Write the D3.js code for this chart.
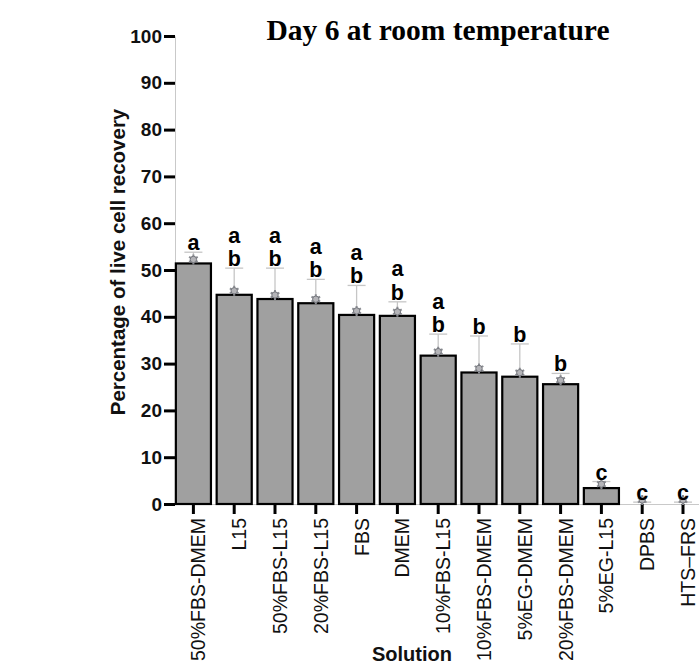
<!DOCTYPE html>
<html>
<head>
<meta charset="utf-8">
<script src="https://cdn.jsdelivr.net/npm/d3@7"></script>
<style>
  html, body { margin: 0; padding: 0; background: #fff; }
  svg { display: block; }
</style>
</head>
<body>
<svg id="chart" width="699" height="664"></svg>
<script>
// Live cell recovery after 6 days at room temperature, per storage solution
const solutions = ["50%FBS-DMEM", "L15", "50%FBS-L15", "20%FBS-L15", "FBS", "DMEM",
  "10%FBS-L15", "10%FBS-DMEM", "5%EG-DMEM", "20%FBS-DMEM", "5%EG-L15", "DPBS", "HTS\u2013FRS"];
const meanRecovery = [51.4, 44.7, 43.8, 42.9, 40.4, 40.2, 31.7, 28.1, 27.2, 25.6, 3.4, 0, 0];
const upperError = [53.8, 50.4, 50.4, 48.0, 46.7, 43.2, 36.3, 35.9, 34.2, 27.9, 4.8, 0.4, 0.4];
const groupLetters = [["a"], ["a", "b"], ["a", "b"], ["a", "b"], ["a", "b"], ["a", "b"],
  ["a", "b"], ["b"], ["b"], ["b"], ["c"], ["c"], ["c"]];
const yTicks = [0, 10, 20, 30, 40, 50, 60, 70, 80, 90, 100];

const svg = d3.select("#chart");
const sans = "'Liberation Sans', Arial, Helvetica, sans-serif";

const x = d3.scaleBand().domain(solutions).range([173, 703.4])
  .paddingInner(0.14).paddingOuter(0.07);
const y = d3.scaleLinear().domain([0, 100]).range([504, 36]);

const rows = solutions.map((s, i) => ({
  name: s, v: meanRecovery[i], hi: upperError[i], letters: groupLetters[i]
}));

// Title
svg.append("text")
  .attr("x", 438).attr("y", 40)
  .attr("text-anchor", "middle")
  .attr("font-family", "'Liberation Serif', 'Times New Roman', serif")
  .attr("font-weight", "bold").attr("font-size", 29.5)
  .text("Day 6 at room temperature");

// Y axis
const yAxis = svg.append("g")
  .attr("transform", "translate(175,0)")
  .call(d3.axisLeft(y).tickValues(yTicks).tickSize(11).tickSizeOuter(0).tickPadding(2));
yAxis.select(".domain").attr("stroke", "#c9c9c9").attr("stroke-width", 1);
yAxis.selectAll(".tick line").attr("stroke", "#000").attr("stroke-width", 3);
yAxis.selectAll(".tick text")
  .attr("font-family", sans).attr("font-weight", "bold").attr("font-size", 19).attr("fill", "#111");

// X axis baseline and ticks
const xAxis = svg.append("g")
  .attr("transform", `translate(0,${y(0)})`)
  .call(d3.axisBottom(x).tickSize(10).tickSizeOuter(0));
xAxis.select(".domain").attr("stroke", "#c9c9c9").attr("stroke-width", 1)
  .attr("d", `M175,0.5H699`);
xAxis.selectAll(".tick line").attr("stroke", "#000").attr("stroke-width", 3);
xAxis.selectAll(".tick text")
  .attr("font-family", sans).attr("font-size", 19.5).attr("fill", "#111")
  .attr("text-anchor", "end")
  .attr("transform", "rotate(-90)")
  .attr("x", -14).attr("y", 12).attr("dy", 0);

// Bars
svg.append("g").selectAll("rect")
  .data(rows.filter(d => d.v > 0))
  .join("rect")
  .attr("x", d => x(d.name))
  .attr("y", d => y(d.v))
  .attr("width", x.bandwidth())
  .attr("height", d => y(0) - y(d.v))
  .attr("fill", "#a0a0a0")
  .attr("stroke", "#000")
  .attr("stroke-width", 2.2);

// Upper error bars
const err = svg.append("g").attr("stroke", "#c6c6c6").attr("stroke-width", 1.3);
err.selectAll("line.v").data(rows).join("line").attr("class", "v")
  .attr("x1", d => x(d.name) + x.bandwidth() / 2)
  .attr("x2", d => x(d.name) + x.bandwidth() / 2)
  .attr("y1", d => y(d.v)).attr("y2", d => y(d.hi));
err.selectAll("line.cap").data(rows).join("line").attr("class", "cap")
  .attr("x1", d => x(d.name) + x.bandwidth() / 2 - 9)
  .attr("x2", d => x(d.name) + x.bandwidth() / 2 + 9)
  .attr("y1", d => y(d.hi)).attr("y2", d => y(d.hi));

// Mean markers
const marks = svg.append("g").selectAll("g")
  .data(rows).join("g")
  .attr("transform", d => `translate(${x(d.name) + x.bandwidth() / 2},${y(d.v) - 4})`);
marks.append("path")
  .attr("d", d3.symbol(d3.symbolAsterisk, 70))
  .attr("stroke", "#8a8c92").attr("stroke-width", 2);
marks.append("circle").attr("r", 3.2)
  .attr("fill", "#b4b4b8").attr("stroke", "#74767c").attr("stroke-width", 1);

// Significance letters, stacked upward from the error-bar cap
const letterGroups = svg.append("g").selectAll("g")
  .data(rows).join("g")
  .attr("transform", d => `translate(${x(d.name) + x.bandwidth() / 2},${y(d.hi) - 2})`);
letterGroups.selectAll("text")
  .data(d => d.letters.slice().reverse())
  .join("text")
  .attr("text-anchor", "middle")
  .attr("y", (t, i) => -i * 23.5)
  .attr("font-family", sans).attr("font-weight", "bold").attr("font-size", 21.5)
  .attr("fill", "#000")
  .text(t => t);

// Axis titles
svg.append("text")
  .attr("transform", "translate(125,262) rotate(-90)")
  .attr("text-anchor", "middle")
  .attr("font-family", sans).attr("font-weight", "bold").attr("font-size", 20.5)
  .attr("fill", "#111")
  .text("Percentage of live cell recovery");

svg.append("text")
  .attr("x", 412).attr("y", 661)
  .attr("text-anchor", "middle")
  .attr("font-family", sans).attr("font-weight", "bold").attr("font-size", 20)
  .attr("fill", "#111")
  .text("Solution");
</script>
</body>
</html>
